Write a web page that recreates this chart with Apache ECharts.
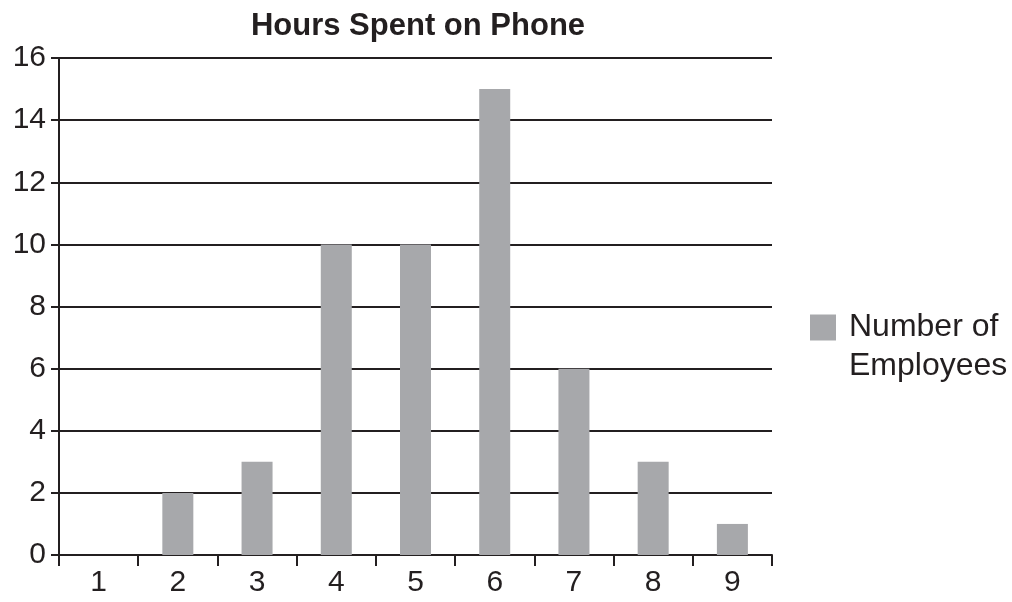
<!DOCTYPE html>
<html>
<head>
<meta charset="utf-8">
<script src="https://cdn.jsdelivr.net/npm/echarts@6/dist/echarts.min.js"></script>
<style>
  html, body { margin: 0; padding: 0; background: #ffffff; }
  #chart { width: 1012px; height: 602px; }
</style>
</head>
<body>
<div id="chart"></div>
<script>
// Hours per day spent on the phone, and how many employees reported each
const hours = ['1', '2', '3', '4', '5', '6', '7', '8', '9'];
const employees = [0, 2, 3, 10, 10, 15, 6, 3, 1];
const seriesName = 'Number of\nEmployees';
const chartTitle = 'Hours Spent on Phone';

const ink = '#231f20';
const barGrey = '#a7a8ab';
const fontFamily = '"Liberation Sans", Arial, sans-serif';

const chart = echarts.init(document.getElementById('chart'), null, { renderer: 'canvas' });

chart.setOption({
  animation: false,
  backgroundColor: '#ffffff',
  title: {
    text: chartTitle,
    left: 413,
    textAlign: 'center',
    top: 6,
    textStyle: { fontFamily, fontSize: 31, fontWeight: 'bold', color: ink }
  },
  legend: {
    orient: 'vertical',
    left: 810,
    top: 269,
    padding: 0,
    itemWidth: 26,
    itemHeight: 26,
    icon: 'rect',
    // a blank leading line keeps the first text line level with the swatch
    formatter: name => ' \n' + name,
    textStyle: {
      fontFamily, fontSize: 32, color: ink,
      lineHeight: 39, padding: [0, 0, 0, 8]
    },
    data: [seriesName]
  },
  grid: { left: 59, top: 58, width: 713, height: 497, containLabel: false },
  xAxis: {
    type: 'category',
    data: hours,
    axisLine: { show: true, lineStyle: { color: ink, width: 2 } },
    axisTick: { show: true, alignWithLabel: false, length: 11, lineStyle: { color: ink, width: 2 } },
    axisLabel: { fontFamily, fontSize: 30, color: ink, margin: 13 },
    splitLine: { show: false }
  },
  yAxis: {
    type: 'value',
    min: 0,
    max: 16,
    interval: 2,
    axisLine: { show: true, lineStyle: { color: ink, width: 2 } },
    axisTick: { show: true, length: 8, lineStyle: { color: ink, width: 2 } },
    axisLabel: { fontFamily, fontSize: 30, color: ink, margin: 13 },
    splitLine: { show: true, lineStyle: { color: ink, width: 2 } }
  },
  series: [{
    name: seriesName,
    type: 'bar',
    data: employees,
    barWidth: 31,
    itemStyle: { color: barGrey },
    z: 1
  }]
});
</script>
</body>
</html>
